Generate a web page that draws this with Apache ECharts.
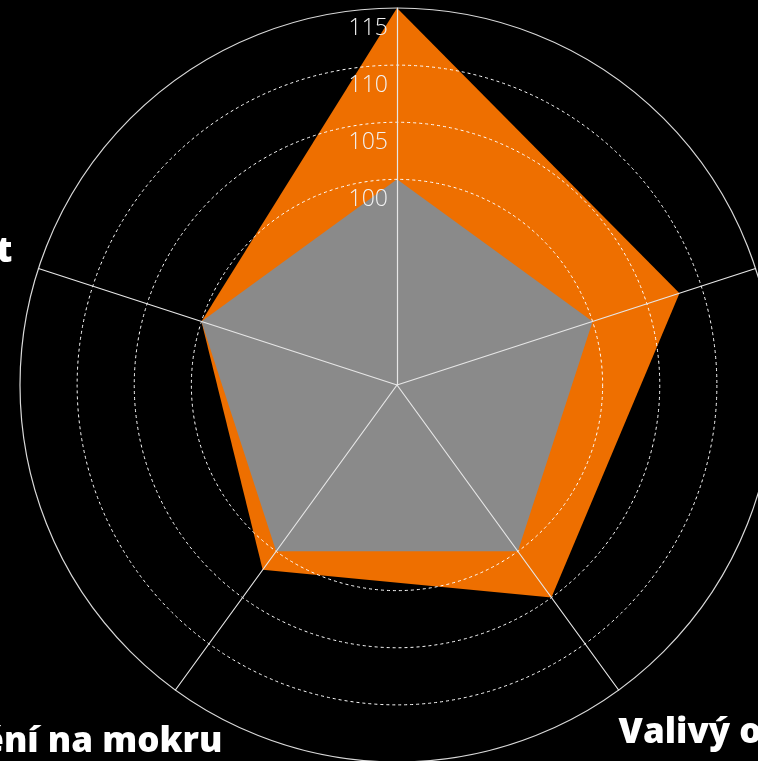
<!DOCTYPE html>
<html>
<head>
<meta charset="utf-8">
<script src="https://cdn.jsdelivr.net/npm/echarts@6/dist/echarts.min.js"></script>
<style>
  html, body { margin: 0; padding: 0; background: #000; }
  #chart { width: 758px; height: 761px; }
</style>
</head>
<body>
<div id="chart"></div>
<script>
// data
var categories = ['Životnost', 'Ovladatelnost', 'Brzdění na mokru', 'Valivý odpor', 'Brzdění na suchu'];
var orangeValues = [115, 100, 102, 105, 108];
var greyValues = [100, 100, 100, 100, 100];
var tickLabels = [100, 105, 110, 115];
var gridValues = [100, 105, 110];
var axisMin = 82;
var axisMax = 115;

var chart = echarts.init(document.getElementById('chart'));

// one split per unit, only the gridValues get a visible colour
var splitColors = [];
for (var v = axisMin; v <= axisMax; v++) {
    splitColors.push(gridValues.indexOf(v) !== -1 ? '#ffffff' : 'rgba(0,0,0,0)');
}

// per indicator tweaks of the name position
var nameTweaks = [
    {},
    { nameGap: -3, nameTextStyle: { align: 'right', verticalAlign: 'bottom', padding: [0, 29, 0, 0] } },
    { nameGap: -80, nameTextStyle: { align: 'right', verticalAlign: 'top', padding: [99, 0, 0, 0] } },
    { nameGap: 0, nameTextStyle: { align: 'left', verticalAlign: 'top', padding: [26, 0, 0, 0] } },
    {}
];

var indicators = categories.map(function (name, i) {
    var ind = { name: name, min: axisMin, max: axisMax };
    var t = nameTweaks[i];
    for (var k in t) ind[k] = t[k];
    if (i === 0) {
        ind.axisLabel = {
            show: true,
            color: '#f2f2f2',
            fontSize: 23,
            fontFamily: 'Open Sans',
            fontWeight: 300,
            margin: 9,
            align: 'right',
            verticalAlign: 'top',
            padding: [9, 0, 0, 0],
            formatter: function (val) {
                var r = Math.round(val);
                return tickLabels.indexOf(r) !== -1 ? String(r) : '';
            }
        };
    }
    return ind;
});

var plainIndicators = categories.map(function (name) {
    return { name: name, min: axisMin, max: axisMax };
});

var option = {
    backgroundColor: '#000',
    animation: false,
    radar: [
        {
            z: 5,
            center: [397, 385],
            radius: 377,
            startAngle: 90,
            shape: 'circle',
            splitNumber: axisMax - axisMin,
            indicator: indicators,
            axisName: {
                color: '#ffffff',
                fontSize: 35,
                fontWeight: 800,
                fontFamily: 'Open Sans'
            },
            axisLine: { show: true, lineStyle: { color: '#e6e6e6', width: 1.2 } },
            axisTick: { show: false },
            axisLabel: { show: false },
            splitArea: { show: false },
            splitLine: {
                show: true,
                lineStyle: { color: splitColors, width: 1, type: [3, 3] }
            }
        },
        {
            z: 5,
            center: [397, 385],
            radius: 377,
            startAngle: 90,
            shape: 'circle',
            splitNumber: 1,
            indicator: plainIndicators,
            axisName: { show: false },
            axisLine: { show: false },
            axisTick: { show: false },
            axisLabel: { show: false },
            splitArea: { show: false },
            splitLine: {
                show: true,
                lineStyle: { color: ['rgba(0,0,0,0)', '#d9d9d9'], width: 1.2 }
            }
        }
    ],
    series: [
        {
            type: 'radar',
            radarIndex: 0,
            symbol: 'none',
            lineStyle: { width: 0 },
            data: [
                {
                    value: orangeValues,
                    areaStyle: { color: '#ee6f00', opacity: 1 },
                    lineStyle: { width: 0, color: '#ee6f00' }
                },
                {
                    value: greyValues,
                    areaStyle: { color: '#8a8a8a', opacity: 1 },
                    lineStyle: { width: 0, color: '#8a8a8a' }
                }
            ]
        }
    ]
};

chart.setOption(option);
</script>
</body>
</html>
